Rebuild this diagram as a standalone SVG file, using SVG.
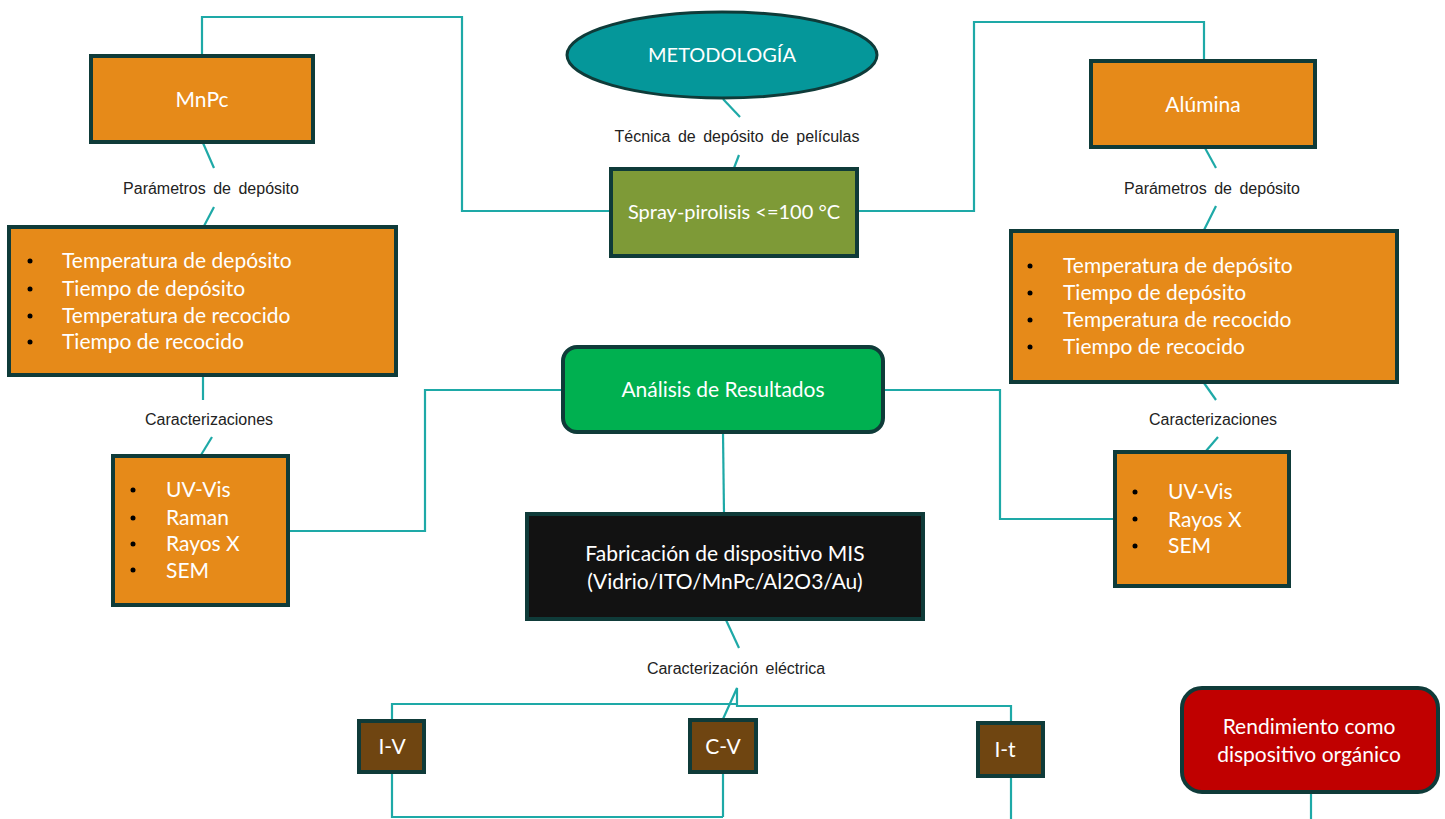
<svg xmlns="http://www.w3.org/2000/svg" width="1445" height="819" viewBox="0 0 1445 819">
<style>
.box{stroke:#0f3b39;stroke-width:4}
.or{fill:#e68a19}
.br{fill:#6f4511}
.t{font-family:Lato,"Open Sans",sans-serif;fill:#ffffff;font-size:21px}
.lb{font-family:"Liberation Sans",Arial,sans-serif;fill:#222;font-size:16px;word-spacing:3px}
.bu{fill:#000}
.c{fill:none;stroke:#1ea9a7;stroke-width:2.2}
</style>
<rect width="1445" height="819" fill="#ffffff"/>
<g id="connectors">
<polyline class="c" points="202,55 202,17 462,17 462,211 610,211"/>
<polyline class="c" points="858,211 974,211 974,22 1204,22 1204,60"/>
<line class="c" x1="723" y1="99" x2="740" y2="117"/>
<line class="c" x1="739" y1="155" x2="734" y2="168"/>
<line class="c" x1="203" y1="143" x2="214" y2="168"/>
<line class="c" x1="214" y1="207" x2="204" y2="226"/>
<line class="c" x1="1205" y1="148" x2="1216" y2="168"/>
<line class="c" x1="1216" y1="206" x2="1204" y2="230"/>
<line class="c" x1="203" y1="376" x2="203" y2="400"/>
<line class="c" x1="212" y1="437" x2="201" y2="455"/>
<line class="c" x1="1204" y1="383" x2="1216" y2="400"/>
<line class="c" x1="1218" y1="437" x2="1206" y2="451"/>
<polyline class="c" points="289,531 425,531 425,390 562,390"/>
<polyline class="c" points="884,390 1000,390 1000,519 1114,519"/>
<line class="c" x1="723" y1="433" x2="724" y2="513"/>
<line class="c" x1="726" y1="620" x2="739" y2="648"/>
<polyline class="c" points="392,720 392,704 737,704"/>
<polyline class="c" points="723,719 737,688 737,706 1011,706 1011,722"/>
<polyline class="c" points="392,773 392,817 723,817"/>
<line class="c" x1="723" y1="773" x2="723" y2="817"/>
<line class="c" x1="1011" y1="777" x2="1011" y2="819"/>
<line class="c" x1="1311" y1="793" x2="1311" y2="819"/>
</g>
<g id="label-tecnica"><text class="lb" x="737" y="142" text-anchor="middle">Técnica de depósito  de películas</text></g>
<g id="label-param-left"><text class="lb" x="211" y="194" text-anchor="middle">Parámetros  de depósito</text></g>
<g id="label-param-right"><text class="lb" x="1212" y="194" text-anchor="middle">Parámetros  de depósito</text></g>
<g id="label-caract-left"><text class="lb" x="209" y="425" text-anchor="middle">Caracterizaciones</text></g>
<g id="label-caract-right"><text class="lb" x="1213" y="425" text-anchor="middle">Caracterizaciones</text></g>
<g id="label-electrica"><text class="lb" x="736" y="674" text-anchor="middle">Caracterización  eléctrica</text></g>

<g id="metodologia">
<ellipse cx="722" cy="55" rx="155" ry="43" fill="#05979a" stroke="#0f3b39" stroke-width="3"/>
<text class="t" x="722" y="62" text-anchor="middle" style="font-size:20px">METODOLOGÍA</text>
</g>
<g id="mnpc">
<rect class="box or" x="91" y="56" width="222" height="86"/>
<text class="t" x="202" y="107" text-anchor="middle">MnPc</text>
</g>
<g id="spray">
<rect class="box" fill="#7e9a37" x="611" y="169" width="246" height="87"/>
<text class="t" x="734" y="219" text-anchor="middle" style="font-size:20px">Spray-pirolisis &lt;=100 °C</text>
</g>
<g id="alumina">
<rect class="box or" x="1091" y="61" width="224" height="86"/>
<text class="t" x="1203" y="112" text-anchor="middle">Alúmina</text>
</g>
<g id="params-left">
<rect class="box or" x="9" y="227" width="387" height="148"/>
<g class="bu"><circle cx="30" cy="261" r="2.5"/><circle cx="30" cy="289" r="2.5"/><circle cx="30" cy="316" r="2.5"/><circle cx="30" cy="342" r="2.5"/></g>
<text class="t" x="62" y="268">Temperatura de depósito</text>
<text class="t" x="62" y="296">Tiempo de depósito</text>
<text class="t" x="62" y="323">Temperatura de recocido</text>
<text class="t" x="62" y="349">Tiempo de recocido</text>
</g>
<g id="params-right">
<rect class="box or" x="1011" y="231" width="386" height="151"/>
<g class="bu"><circle cx="1030" cy="266" r="2.5"/><circle cx="1030" cy="293" r="2.5"/><circle cx="1030" cy="320" r="2.5"/><circle cx="1030" cy="347" r="2.5"/></g>
<text class="t" x="1063" y="273">Temperatura de depósito</text>
<text class="t" x="1063" y="300">Tiempo de depósito</text>
<text class="t" x="1063" y="327">Temperatura de recocido</text>
<text class="t" x="1063" y="354">Tiempo de recocido</text>
</g>
<g id="caract-left">
<rect class="box or" x="113" y="456" width="175" height="149"/>
<g class="bu"><circle cx="133" cy="490" r="2.5"/><circle cx="133" cy="518" r="2.5"/><circle cx="133" cy="544" r="2.5"/><circle cx="133" cy="570" r="2.5"/></g>
<text class="t" x="166" y="497">UV-Vis</text>
<text class="t" x="166" y="525">Raman</text>
<text class="t" x="166" y="551">Rayos X</text>
<text class="t" x="166" y="578">SEM</text>
</g>
<g id="caract-right">
<rect class="box or" x="1115" y="452" width="174" height="134"/>
<g class="bu"><circle cx="1135" cy="492" r="2.5"/><circle cx="1135" cy="519" r="2.5"/><circle cx="1135" cy="546" r="2.5"/></g>
<text class="t" x="1168" y="499">UV-Vis</text>
<text class="t" x="1168" y="527">Rayos X</text>
<text class="t" x="1168" y="553">SEM</text>
</g>
<g id="analisis">
<rect class="box" fill="#00b050" x="563" y="347" width="320" height="85" rx="14"/>
<text class="t" x="723" y="397" text-anchor="middle">Análisis de Resultados</text>
</g>
<g id="fabricacion">
<rect class="box" fill="#121212" x="527" y="514" width="396" height="105"/>
<text class="t" x="725" y="561" text-anchor="middle">Fabricación de dispositivo MIS</text>
<text class="t" x="725" y="589" text-anchor="middle">(Vidrio/ITO/MnPc/Al2O3/Au)</text>
</g>
<g id="iv">
<rect class="box br" x="359" y="721" width="65" height="51"/>
<text class="t" x="392" y="754" text-anchor="middle">I-V</text>
</g>
<g id="cv">
<rect class="box br" x="690" y="720" width="66" height="52"/>
<text class="t" x="723" y="754" text-anchor="middle">C-V</text>
</g>
<g id="it">
<rect class="box br" x="978" y="723" width="65" height="53"/>
<text class="t" x="1005" y="757" text-anchor="middle">I-t</text>
</g>
<g id="rendimiento">
<rect class="box" fill="#c00000" x="1182" y="688" width="256" height="104" rx="20"/>
<text class="t" x="1309" y="734" text-anchor="middle">Rendimiento como</text>
<text class="t" x="1309" y="762" text-anchor="middle">dispositivo orgánico</text>
</g>
</svg>
